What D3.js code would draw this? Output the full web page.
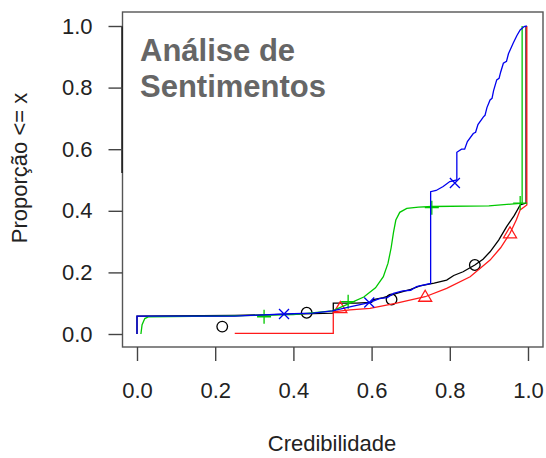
<!DOCTYPE html>
<html>
<head>
<meta charset="utf-8">
<script src="https://cdn.jsdelivr.net/npm/d3@7"></script>
<style>
    body { margin: 0; background: #fff; }
    svg text { font-family: "Liberation Sans", Arial, sans-serif; }
</style>
</head>
<body>
<div id="chart"></div>
<script>

// Ticks
var xTicks = [0, 0.2, 0.4, 0.6, 0.8, 1.0];
var yTicks = [0, 0.2, 0.4, 0.6, 0.8, 1.0];

// Black series (circles)
var blackX = [0, 0, 0.25, 0.45, 0.502, 0.502, 0.56, 0.6, 0.605, 0.63, 0.664, 0.7, 0.724, 0.76, 0.792, 0.81, 0.834, 0.864, 0.885, 0.903, 0.925, 0.945, 0.965, 0.98, 0.995, 0.995];
var blackP = [0, 0.058, 0.06, 0.066, 0.068, 0.1, 0.1, 0.103, 0.112, 0.118, 0.132, 0.145, 0.156, 0.165, 0.175, 0.19, 0.202, 0.224, 0.243, 0.267, 0.305, 0.348, 0.385, 0.419, 0.425, 1.0];
var blackMarkX = [0.218, 0.434, 0.651, 0.864];
var blackMarkP = [0.024, 0.069, 0.112, 0.224];

// Red series (triangles)
var redX = [0.25, 0.502, 0.502, 0.545, 0.596, 0.664, 0.737, 0.792, 0.852, 0.903, 0.93, 0.954, 0.97, 0.98, 0.997, 0.997];
var redP = [0.002, 0.002, 0.072, 0.078, 0.083, 0.1, 0.121, 0.148, 0.186, 0.24, 0.28, 0.327, 0.37, 0.403, 0.419, 1.0];
var redMarkX = [0.52, 0.737, 0.954];
var redMarkP = [0.084, 0.121, 0.327];

// Green series (plus)
var greenX = [0.01, 0.013, 0.02, 0.03, 0.2, 0.4, 0.5, 0.545, 0.58, 0.61, 0.63, 0.642, 0.65, 0.656, 0.662, 0.672, 0.69, 0.72, 0.754, 0.9, 0.98, 0.985, 0.985];
var greenP = [0, 0.03, 0.05, 0.056, 0.058, 0.063, 0.075, 0.1, 0.12, 0.15, 0.186, 0.23, 0.28, 0.33, 0.37, 0.395, 0.408, 0.412, 0.414, 0.416, 0.424, 0.425, 1.0];
var greenMarkX = [0.325, 0.54, 0.754, 0.98];
var greenMarkP = [0.056, 0.105, 0.41, 0.425];

// Blue series (x)
var blueX = [0, 0, 0.25, 0.376, 0.45, 0.5, 0.55, 0.594, 0.62, 0.64, 0.656, 0.68, 0.7, 0.715, 0.751, 0.751, 0.765, 0.783, 0.8, 0.818, 0.818, 0.83, 0.838, 0.845, 0.86, 0.866, 0.872, 0.886, 0.89, 0.895, 0.903, 0.908, 0.912, 0.92, 0.926, 0.93, 0.937, 0.945, 0.95, 0.962, 0.972, 0.98, 0.99, 0.997];
var blueP = [0, 0.058, 0.058, 0.065, 0.068, 0.075, 0.09, 0.102, 0.115, 0.118, 0.132, 0.14, 0.142, 0.154, 0.164, 0.462, 0.466, 0.479, 0.495, 0.5, 0.59, 0.6, 0.6, 0.625, 0.651, 0.655, 0.68, 0.705, 0.71, 0.735, 0.76, 0.765, 0.79, 0.825, 0.83, 0.85, 0.879, 0.885, 0.91, 0.944, 0.97, 0.987, 0.998, 1.0];
var blueMarkX = [0.376, 0.594, 0.813];
var blueMarkP = [0.065, 0.102, 0.49];

var width = 546, height = 458;

var svg = d3.select('#chart')
    .append('svg')
        .attr('width', width)
        .attr('height', height);

// Scales
var x = d3.scaleLinear().domain([0, 1]).range([137, 528]);
var y = d3.scaleLinear().domain([0, 1]).range([334, 26]);

var frame = {left: 122.5, top: 12, right: 543, bottom: 347};

// Series definitions
var series = [
    {xs: blackX, ps: blackP, mx: blackMarkX, mp: blackMarkP, color: '#000000', shape: 'circle'},
    {xs: redX, ps: redP, mx: redMarkX, mp: redMarkP, color: '#ff1a1a', shape: 'triangle'},
    {xs: greenX, ps: greenP, mx: greenMarkX, mp: greenMarkP, color: '#00c800', shape: 'plus'},
    {xs: blueX, ps: blueP, mx: blueMarkX, mp: blueMarkP, color: '#0000ee', shape: 'cross'}
];

series.forEach(function(s) {
    var pts = s.xs.map(function(v, i) { return [v, s.ps[i]]; });
    var line = d3.line()
        .x(function(d) { return x(d[0]); })
        .y(function(d) { return y(d[1]); });

    svg.append('path')
        .attr('d', line(pts))
        .attr('fill', 'none')
        .attr('stroke', s.color)
        .attr('stroke-width', 1.3);

    // markers
    s.mx.forEach(function(v, i) {
        var cx = x(v), cy = y(s.mp[i]);
        var g = svg.append('g')
            .attr('transform', 'translate(' + cx + ',' + cy + ')')
            .attr('fill', 'none')
            .attr('stroke', s.color)
            .attr('stroke-width', 1.3);
        if (s.shape === 'circle') {
            g.append('circle').attr('r', 5.3);
        } else if (s.shape === 'triangle') {
            g.append('path').attr('d', 'M0,-6.5L6.5,4.5L-6.5,4.5Z');
        } else if (s.shape === 'plus') {
            g.append('path').attr('d', 'M-7,0L7,0M0,-7L0,7');
        } else {
            g.append('path').attr('d', 'M-5,-5L5,5M-5,5L5,-5');
        }
    });
});

// Frame
svg.append('rect')
    .attr('x', frame.left)
    .attr('y', frame.top)
    .attr('width', frame.right - frame.left)
    .attr('height', frame.bottom - frame.top)
    .attr('fill', 'none')
    .attr('stroke', '#555')
    .attr('stroke-width', 1.4);

svg.append('line')
    .attr('x1', frame.left - 0.5).attr('x2', frame.left - 0.5)
    .attr('y1', y(1)).attr('y2', 173)
    .attr('stroke', '#111')
    .attr('stroke-width', 1.4);

// Axes
var xAxis = d3.axisBottom(x)
    .tickValues(xTicks)
    .tickSize(14)
    .tickPadding(21)
    .tickFormat(d3.format('.1f'));

var yAxis = d3.axisLeft(y)
    .tickValues(yTicks)
    .tickSize(14)
    .tickPadding(16)
    .tickFormat(d3.format('.1f'));

var gx = svg.append('g')
    .attr('transform', 'translate(0,' + frame.bottom + ')')
    .call(xAxis);

var gy = svg.append('g')
    .attr('transform', 'translate(' + frame.left + ',0)')
    .call(yAxis);

[gx, gy].forEach(function(g) {
    g.select('.domain').remove();
    g.selectAll('.tick line').attr('stroke', '#444').attr('stroke-width', 1.4);
    g.selectAll('.tick text')
        .attr('fill', '#222')
        .style('font-size', '22px')
        .style('font-family', '"Liberation Sans", Arial, sans-serif');
});

// Axis titles
svg.append('text')
    .attr('x', 332)
    .attr('y', 451)
    .attr('text-anchor', 'middle')
    .attr('fill', '#222')
    .style('font-size', '22px')
    .text('Credibilidade');

svg.append('text')
    .attr('transform', 'translate(27,168) rotate(-90)')
    .attr('text-anchor', 'middle')
    .attr('fill', '#222')
    .style('font-size', '22px')
    .text('Proporção <= x');

// Overlay title
svg.append('text')
    .attr('x', 140)
    .attr('y', 61)
    .attr('fill', '#666')
    .style('font-size', '31px')
    .style('font-weight', 'bold')
    .text('Análise de');

svg.append('text')
    .attr('x', 140)
    .attr('y', 97)
    .attr('fill', '#666')
    .style('font-size', '31px')
    .style('font-weight', 'bold')
    .text('Sentimentos');

</script>
</body>
</html>
